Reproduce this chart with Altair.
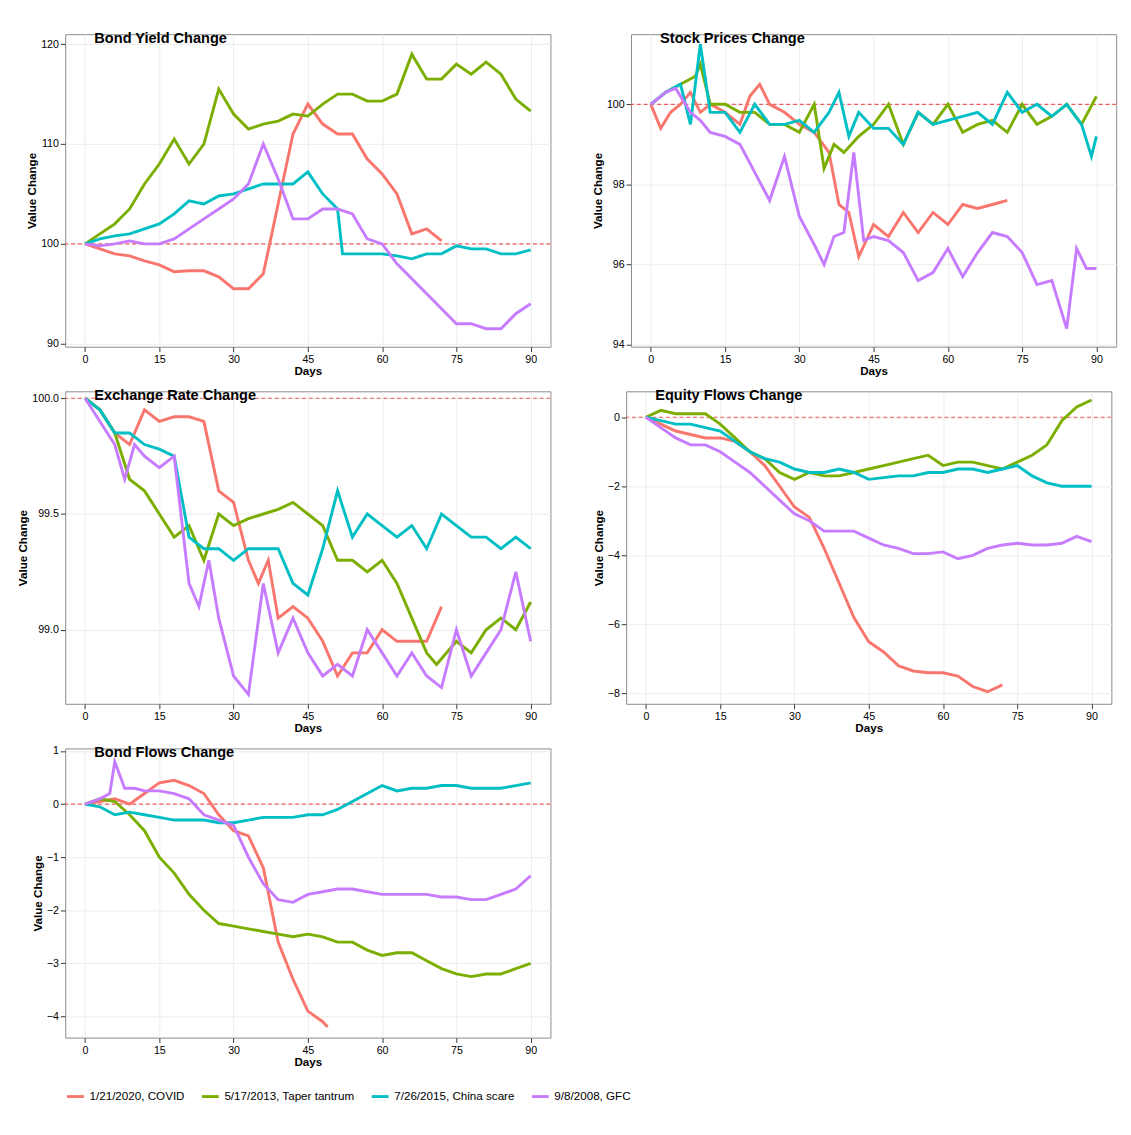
import altair as alt
import pandas as pd

SERIES = ["1/21/2020, COVID", "5/17/2013, Taper tantrum", "7/26/2015, China scare", "9/8/2008, GFC"]
COLORS = ["#F8766D", "#7CAE00", "#00BFC4", "#C77CFF"]

bond_yield = {
 SERIES[0]: [[0,100],[3,99.5],[6,99],[9,98.8],[12,98.3],[15,97.9],[18,97.2],[21,97.3],[24,97.3],[27,96.7],[30,95.5],[33,95.5],[36,97],[39,104],[42,111],[45,114],[48,112],[51,111],[54,111],[57,108.5],[60,107],[63,105],[66,101],[69,101.5],[72,100.3]],
 SERIES[1]: [[0,100],[3,101],[6,102],[9,103.5],[12,106],[15,108],[18,110.5],[21,108],[24,110],[27,115.5],[30,113],[33,111.5],[36,112],[39,112.3],[42,113],[45,112.8],[48,114],[51,115],[54,115],[57,114.3],[60,114.3],[63,115],[66,119],[69,116.5],[72,116.5],[75,118],[78,117],[81,118.2],[84,117],[87,114.5],[90,113.3]],
 SERIES[2]: [[0,100],[3,100.5],[6,100.8],[9,101],[12,101.5],[15,102],[18,103],[21,104.3],[24,104],[27,104.8],[30,105],[33,105.5],[36,106],[39,106],[42,106],[45,107.2],[48,105],[51,103.5],[52,99],[54,99],[57,99],[60,99],[63,98.8],[66,98.5],[69,99],[72,99],[75,99.8],[78,99.5],[81,99.5],[84,99],[87,99],[90,99.4]],
 SERIES[3]: [[0,100],[3,99.8],[6,100],[9,100.3],[12,100],[15,100],[18,100.5],[21,101.5],[24,102.5],[27,103.5],[30,104.5],[33,106],[36,110],[39,106.5],[42,102.5],[45,102.5],[48,103.5],[51,103.5],[54,103],[57,100.5],[60,100],[63,98],[66,96.5],[69,95],[72,93.5],[75,92],[78,92],[81,91.5],[84,91.5],[87,93],[90,94]],
}
stock = {
 SERIES[0]: [[0,100],[2,99.4],[4,99.8],[6,100],[8,100.3],[10,99.8],[12,100],[15,99.8],[18,99.5],[20,100.2],[22,100.5],[24,100],[27,99.8],[30,99.5],[33,99.3],[36,98.8],[38,97.5],[40,97.3],[42,96.2],[45,97],[48,96.7],[51,97.3],[54,96.8],[57,97.3],[60,97],[63,97.5],[66,97.4],[69,97.5],[72,97.6]],
 SERIES[1]: [[0,100],[3,100.3],[6,100.5],[9,100.7],[10,101],[12,100],[15,100],[18,99.8],[21,99.8],[24,99.5],[27,99.5],[30,99.3],[33,100],[35,98.4],[37,99],[39,98.8],[42,99.2],[45,99.5],[48,100],[51,99],[54,99.8],[57,99.5],[60,100],[63,99.3],[66,99.5],[69,99.6],[72,99.3],[75,100],[78,99.5],[81,99.7],[84,100],[87,99.5],[90,100.2]],
 SERIES[2]: [[0,100],[3,100.3],[6,100.5],[8,99.5],[10,101.5],[12,99.8],[15,99.8],[18,99.3],[21,100],[24,99.5],[27,99.5],[30,99.6],[33,99.3],[36,99.8],[38,100.3],[40,99.2],[42,99.8],[45,99.4],[48,99.4],[51,99],[54,99.8],[57,99.5],[60,99.6],[63,99.7],[66,99.8],[69,99.5],[72,100.3],[75,99.8],[78,100],[81,99.7],[84,100],[87,99.5],[89,98.7],[90,99.2]],
 SERIES[3]: [[0,100],[3,100.3],[5,100.4],[8,99.8],[10,99.6],[12,99.3],[15,99.2],[18,99],[21,98.3],[24,97.6],[27,98.7],[30,97.2],[33,96.5],[35,96],[37,96.7],[39,96.8],[41,98.8],[43,96.6],[45,96.7],[48,96.6],[51,96.3],[54,95.6],[57,95.8],[60,96.4],[63,95.7],[66,96.3],[69,96.8],[72,96.7],[75,96.3],[78,95.5],[81,95.6],[84,94.4],[86,96.4],[88,95.9],[90,95.9]],
}
exchange = {
 SERIES[0]: [[0,100],[3,99.95],[6,99.85],[9,99.8],[12,99.95],[15,99.9],[18,99.92],[21,99.92],[24,99.9],[27,99.6],[30,99.55],[33,99.3],[35,99.2],[37,99.3],[39,99.05],[42,99.1],[45,99.05],[48,98.95],[51,98.8],[54,98.9],[57,98.9],[60,99],[63,98.95],[66,98.95],[69,98.95],[72,99.1]],
 SERIES[1]: [[0,100],[3,99.95],[6,99.85],[9,99.65],[12,99.6],[15,99.5],[18,99.4],[21,99.45],[24,99.3],[27,99.5],[30,99.45],[33,99.48],[36,99.5],[39,99.52],[42,99.55],[45,99.5],[48,99.45],[51,99.3],[54,99.3],[57,99.25],[60,99.3],[63,99.2],[66,99.05],[69,98.9],[71,98.85],[75,98.95],[78,98.9],[81,99],[84,99.05],[87,99],[90,99.12]],
 SERIES[2]: [[0,100],[3,99.95],[6,99.85],[9,99.85],[12,99.8],[15,99.78],[18,99.75],[21,99.4],[24,99.35],[27,99.35],[30,99.3],[33,99.35],[36,99.35],[39,99.35],[42,99.2],[45,99.15],[48,99.35],[51,99.6],[54,99.4],[57,99.5],[60,99.45],[63,99.4],[66,99.45],[69,99.35],[72,99.5],[75,99.45],[78,99.4],[81,99.4],[84,99.35],[87,99.4],[90,99.35]],
 SERIES[3]: [[0,100],[3,99.9],[6,99.8],[8,99.65],[10,99.8],[12,99.75],[15,99.7],[18,99.75],[21,99.2],[23,99.1],[25,99.3],[27,99.05],[30,98.8],[33,98.72],[36,99.2],[39,98.9],[42,99.05],[45,98.9],[48,98.8],[51,98.85],[54,98.8],[57,99],[60,98.9],[63,98.8],[66,98.9],[69,98.8],[72,98.75],[75,99],[78,98.8],[81,98.9],[84,99],[87,99.25],[90,98.95]],
}
equity = {
 SERIES[0]: [[0,0],[3,-0.2],[6,-0.4],[9,-0.5],[12,-0.6],[15,-0.6],[18,-0.7],[21,-1],[24,-1.4],[27,-2],[30,-2.6],[33,-2.9],[36,-3.8],[39,-4.8],[42,-5.8],[45,-6.5],[48,-6.8],[51,-7.2],[54,-7.35],[57,-7.4],[60,-7.4],[63,-7.5],[66,-7.8],[69,-7.95],[72,-7.75]],
 SERIES[1]: [[0,0],[3,0.2],[6,0.1],[9,0.1],[12,0.1],[15,-0.2],[18,-0.6],[21,-1],[24,-1.2],[27,-1.6],[30,-1.8],[33,-1.6],[36,-1.7],[39,-1.7],[42,-1.6],[45,-1.5],[48,-1.4],[51,-1.3],[54,-1.2],[57,-1.1],[60,-1.4],[63,-1.3],[66,-1.3],[69,-1.4],[72,-1.5],[75,-1.3],[78,-1.1],[81,-0.8],[84,-0.1],[87,0.3],[90,0.5]],
 SERIES[2]: [[0,0],[3,-0.1],[6,-0.2],[9,-0.2],[12,-0.3],[15,-0.4],[18,-0.7],[21,-1],[24,-1.2],[27,-1.3],[30,-1.5],[33,-1.6],[36,-1.6],[39,-1.5],[42,-1.6],[45,-1.8],[48,-1.75],[51,-1.7],[54,-1.7],[57,-1.6],[60,-1.6],[63,-1.5],[66,-1.5],[69,-1.6],[72,-1.5],[75,-1.4],[78,-1.7],[81,-1.9],[84,-2],[87,-2],[90,-2]],
 SERIES[3]: [[0,0],[3,-0.3],[6,-0.6],[9,-0.8],[12,-0.8],[15,-1],[18,-1.3],[21,-1.6],[24,-2],[27,-2.4],[30,-2.8],[33,-3],[36,-3.3],[39,-3.3],[42,-3.3],[45,-3.5],[48,-3.7],[51,-3.8],[54,-3.95],[57,-3.95],[60,-3.9],[63,-4.1],[66,-4],[69,-3.8],[72,-3.7],[75,-3.65],[78,-3.7],[81,-3.7],[84,-3.65],[87,-3.45],[90,-3.6]],
}
bond_flows = {
 SERIES[0]: [[0,0],[3,0.05],[6,0.1],[9,0.0],[12,0.2],[15,0.4],[18,0.45],[21,0.35],[24,0.2],[27,-0.2],[30,-0.5],[33,-0.6],[36,-1.2],[39,-2.6],[42,-3.3],[45,-3.9],[48,-4.1],[49,-4.2]],
 SERIES[1]: [[0,0],[3,0.1],[6,0.05],[9,-0.2],[12,-0.5],[15,-1],[18,-1.3],[21,-1.7],[24,-2],[27,-2.25],[30,-2.3],[33,-2.35],[36,-2.4],[39,-2.45],[42,-2.5],[45,-2.45],[48,-2.5],[51,-2.6],[54,-2.6],[57,-2.75],[60,-2.85],[63,-2.8],[66,-2.8],[69,-2.95],[72,-3.1],[75,-3.2],[78,-3.25],[81,-3.2],[84,-3.2],[87,-3.1],[90,-3.0]],
 SERIES[2]: [[0,0],[3,-0.05],[6,-0.2],[9,-0.15],[12,-0.2],[15,-0.25],[18,-0.3],[21,-0.3],[24,-0.3],[27,-0.35],[30,-0.35],[33,-0.3],[36,-0.25],[39,-0.25],[42,-0.25],[45,-0.2],[48,-0.2],[51,-0.1],[54,0.05],[57,0.2],[60,0.35],[63,0.25],[66,0.3],[69,0.3],[72,0.35],[75,0.35],[78,0.3],[81,0.3],[84,0.3],[87,0.35],[90,0.4]],
 SERIES[3]: [[0,0],[3,0.1],[5,0.2],[6,0.8],[8,0.3],[10,0.3],[12,0.25],[15,0.25],[18,0.2],[21,0.1],[24,-0.2],[27,-0.3],[30,-0.4],[33,-1.0],[36,-1.5],[39,-1.8],[42,-1.85],[45,-1.7],[48,-1.65],[51,-1.6],[54,-1.6],[57,-1.65],[60,-1.7],[63,-1.7],[66,-1.7],[69,-1.7],[72,-1.75],[75,-1.75],[78,-1.8],[81,-1.8],[84,-1.7],[87,-1.6],[90,-1.35]],
}

def panel(data, title, base, ydom, yticks, fmt, h=322, w=500):
    rows = [{"s": s, "d": d, "v": v} for s, pts in data.items() for d, v in pts]
    df = pd.DataFrame(rows)
    x = alt.X("d:Q", title="Days", scale=alt.Scale(domain=[-4, 94], nice=False),
              axis=alt.Axis(values=[0, 15, 30, 45, 60, 75, 90]))
    y = alt.Y("v:Q", title="Value Change", scale=alt.Scale(domain=ydom, nice=False, zero=False),
              axis=alt.Axis(values=yticks, format=fmt))
    lines = alt.Chart(df).mark_line(strokeWidth=3).encode(
        x=x, y=y,
        color=alt.Color("s:N", scale=alt.Scale(domain=SERIES, range=COLORS), title=None),
        detail="s:N")
    rule = alt.Chart(pd.DataFrame({"b": [base]})).mark_rule(color="#F25A5A", strokeDash=[4, 3], strokeWidth=1.2).encode(y="b:Q")
    t = alt.Chart(pd.DataFrame({"t": [title]})).mark_text(
        align="left", baseline="top", fontSize=15, fontWeight="bold", font="Liberation Sans", color="black"
    ).encode(text="t:N", x=alt.value(30), y=alt.value(-3))
    return alt.layer(rule, lines, t).properties(width=w, height=h)

p1 = panel(bond_yield, "Bond Yield Change", 100, [89.7, 121], [90, 100, 110, 120], "d")
p2 = panel(stock, "Stock Prices Change", 100, [93.95, 101.75], [94, 96, 98, 100], "d")
p3 = panel(exchange, "Exchange Rate Change", 100, [98.68, 100.03], [99.0, 99.5, 100.0], ".1f")
p4 = panel(equity, "Equity Flows Change", 0, [-8.3, 0.75], [-8, -6, -4, -2, 0], "d")
p5 = panel(bond_flows, "Bond Flows Change", 0, [-4.4, 1.05], [-4, -3, -2, -1, 0, 1], "d", h=298)

chart = alt.vconcat(
    alt.hconcat(p1, p2, spacing=40),
    alt.hconcat(p3, p4, spacing=40),
    p5, spacing=10
).configure_axis(
    labelColor="black", titleColor="black", labelFontSize=11, titleFontSize=12,
    titleFontWeight="bold", labelFont="Liberation Sans", titleFont="Liberation Sans",
    gridColor="#ebebeb", domain=False, tickColor="#333", titlePadding=2
).configure_view(
    stroke="#888"
).configure_legend(
    orient="bottom", direction="horizontal", labelFontSize=12, labelFont="Liberation Sans",
    symbolType="stroke", symbolStrokeWidth=3, symbolSize=300, columnPadding=10, labelColor="black"
).properties(padding={"left": 8, "top": 6, "right": 5, "bottom": 5})

chart.save("out.html", embed_options={"renderer": "svg", "actions": False})
